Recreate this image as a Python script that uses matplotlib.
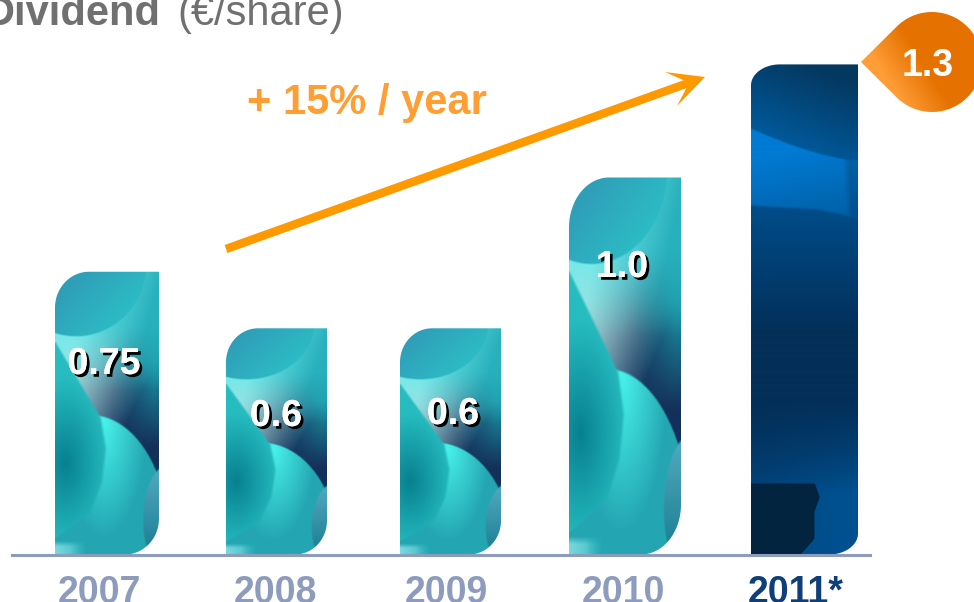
import numpy as np
import matplotlib
matplotlib.use("Agg")
import matplotlib.pyplot as plt
import matplotlib.patheffects as pe
from matplotlib.colors import to_rgb
from matplotlib.patches import Polygon

plt.rcParams["font.family"] = ["Liberation Sans", "DejaVu Sans"]

# Dividend per share
years = ["2007", "2008", "2009", "2010", "2011*"]
dividends = [0.75, 0.6, 0.6, 1.0, 1.3]
value_labels = ["0.75", "0.6", "0.6", "1.0"]
forecast_label = "1.3"
growth_label = "+ 15% / year"

W, H = 974, 602
BASE_PX = 554.5
PX_PER_EURO = 377.0

# Bar geometry and label placement, in figure pixels
bar_left = [55, 226, 400, 569, 751]
bar_right = [159, 327, 501, 681, 858]
corner_rx = [34, 32, 32, 40, 29]
corner_ry = [36, 34, 34, 50, 21]
tick_pos = [99.5, 275, 446, 623.5, 796]
label_xy = [(104, 364), (276, 416), (453, 414), (622, 267)]


def rgb(c):
    return np.array(to_rgb(c))


def mix(a, b, t):
    t = np.clip(t, 0, 1)[..., None]
    return rgb(a) * (1 - t) + rgb(b) * t


def over(img, layer, mask):
    m = np.clip(mask, 0, 1)[..., None]
    return img * (1 - m) + layer * m


def ellipse_mask(u, v, cx, cy, rx, ry, soft=0.03):
    d = 1 - np.sqrt(((u - cx) / rx) ** 2 + ((v - cy) / ry) ** 2)
    return np.clip(d / soft + 0.5, 0, 1)


def teal_texture(n=420, m=180):
    u, v = np.meshgrid(np.linspace(0, 1, m), np.linspace(0, 1, n))
    # upper right field, pale at the left sinking to navy at the notch
    t = ((u - 0.22) * 0.75 + (v - 0.27) * 1.0) / 0.62
    img = mix("#aadede", "#14305a", np.clip(t, 0, 1) ** 1.3)
    side = np.clip((u - 0.55) / 0.4, 0, 1) * np.clip((0.62 - v) / 0.3, 0, 1)
    img = over(img, mix("#38b4be", "#1a98a8", u), side)
    top = np.clip((0.42 - v) / 0.22, 0, 1)
    img = over(img, mix("#70eaea", "#28b0bc", (u - 0.35) / 0.65 + (v - 0.05) * 1.2), top)
    # cap at the top
    cap = mix("#3096b4", "#2cc2c8", u * 0.8 + v * 2.0)
    img = over(img, cap, ellipse_mask(u, v, 0.2, -0.02, 0.68, 0.25, 0.02))
    # bright swell, fading away from its apex
    apex = np.sqrt((u - 0.47) ** 2 + (v - 0.52) ** 2)
    swell = mix("#48f4ec", "#24a6b2", apex / 0.42)
    img = over(img, swell, ellipse_mask(u, v, 0.35, 0.95, 0.75, 0.44, 0.015))
    # right sliver
    sliver = mix("#4fa6bd", "#1f8296", (v - 0.72) / 0.25)
    img = over(img, sliver, ellipse_mask(u, v, 1.12, 0.88, 0.27, 0.2, 0.04))
    # left lobe, its edge traced down the bar
    edge = np.interp(v, [0.25, 0.39, 0.52, 0.63, 0.75, 0.855, 0.945],
                     [0.0, 0.23, 0.44, 0.49, 0.45, 0.34, 0.0], left=-1, right=-1)
    r = np.sqrt(((u - 0.1) / 0.42) ** 2 + ((v - 0.68) / 0.3) ** 2)
    lobe = mix("#07808f", "#26bcc0", r)
    img = over(img, lobe, np.clip((edge - u) / 0.03 + 0.5, 0, 1))
    # pale corner at the foot
    img = over(img, mix("#7ad8de", "#2fb4bc", u / 0.35),
               np.clip((v - 0.955) / 0.02, 0, 1) * np.clip((0.3 - u) / 0.15, 0, 1))
    return img


def navy_texture(n=490, m=107):
    u, v = np.meshgrid(np.linspace(0, 1, m), np.linspace(0, 1, n))
    # body below the bright band
    img = mix("#004c88", "#032f58", (v - 0.3) / 0.25)
    low = np.clip((v - 0.68) / 0.2, 0, 1)
    img = over(img, mix("#033563", "#00508f", low * 0.6 + u * 0.5), low)
    # bright band under the top arc
    band = mix("#007ad2", "#0062aa", (v - 0.18) / 0.14 + (u - 0.4) * 0.3)
    lower_edge = 0.305 - 0.012 * (1 - u) + 0.03 * np.clip(u - 0.6, 0, 1)
    band_mask = np.clip((lower_edge - v) / 0.006, 0, 1)
    img = over(img, band, band_mask)
    wedge = np.clip((u - 0.86 - (v - 0.2) * 0.3) / 0.06, 0, 1) * band_mask
    img = over(img, mix("#0060a5", "#00508f", (v - 0.2) / 0.1), wedge)
    # top arc
    arc = mix("#04385f", "#005ca0", v / 0.2 + (0.55 - u) * 0.45)
    arc_edge = 0.2 - 0.065 * (1 - u) ** 1.5
    img = over(img, arc, np.clip((arc_edge - v) / 0.004, 0, 1))
    # dark block at the foot
    block_right = (0.6 + 0.05 * np.clip(1 - np.abs(v - 0.885) / 0.03, 0, 1)
                   - 0.12 * np.clip(v - 0.97, 0, 1) / 0.03)
    block = np.clip((v - 0.855) / 0.004, 0, 1) * np.clip((block_right - u) / 0.012, 0, 1)
    img = over(img, np.broadcast_to(rgb("#03243f"), img.shape), block)
    return img


def corner(cx, cy, rx, ry, a0, a1, n=40):
    a = np.deg2rad(np.linspace(a0, a1, n))
    return np.column_stack([cx + rx * np.cos(a), cy + ry * np.sin(a)])


def rounded_bar_outline(x0, x1, y1, rx, ry):
    """Bar outline with the top-left and bottom-right corners rounded."""
    return np.vstack([
        [(x0, 0)],
        corner(x0 + rx, y1 - ry, rx, ry, 180, 90),
        [(x1, y1)],
        corner(x1 - rx, ry, rx, ry, 0, -90),
    ])


fig = plt.figure(figsize=(W / 100, H / 100), dpi=100, facecolor="white")

# Value axes: x in figure pixels, y in euro per share
ax = fig.add_axes([0, 1 - BASE_PX / H, 1, BASE_PX / H])
for name in ("top", "left", "right"):
    ax.spines[name].set_visible(False)
ax.spines["bottom"].set_color("#8d9cbd")
ax.spines["bottom"].set_linewidth(2.2)
ax.spines["bottom"].set_bounds(12, 870)
ax.set_yticks([])
ax.patch.set_visible(False)

textures = [teal_texture()] * 4 + [navy_texture()]
for i, val in enumerate(dividends):
    outline = rounded_bar_outline(bar_left[i], bar_right[i], val,
                                  corner_rx[i], corner_ry[i] / PX_PER_EURO)
    patch = Polygon(outline, closed=True, fc="none", ec="none")
    ax.add_patch(patch)
    im = ax.imshow(textures[i], extent=[bar_left[i], bar_right[i], 0, val],
                   aspect="auto", interpolation="bilinear", zorder=2)
    im.set_clip_path(patch)

ax.set_xlim(0, W)
ax.set_ylim(0, BASE_PX / PX_PER_EURO)
ax.set_xticks(tick_pos, years)
ax.tick_params(axis="x", length=0, pad=14.5)
for lab in ax.get_xticklabels():
    lab.set_fontsize(27)
    lab.set_fontweight("bold")
    lab.set_color("#8d9cbd")
ax.get_xticklabels()[-1].set_color("#0f3f78")

# Overlay in figure pixels for annotations
ov = fig.add_axes([0, 0, 1, 1])
ov.set_xlim(0, W)
ov.set_ylim(H, 0)
ov.axis("off")

ov.text(160, 25, "Dividend", ha="right", va="baseline", fontsize=30,
        fontweight="bold", color="#707070")
ov.text(177, 25, "(€/share)", ha="left", va="baseline", fontsize=30,
        color="#707070")

shadow = [pe.withSimplePatchShadow(offset=(2, -2), shadow_rgbFace="black",
                                   alpha=1.0), pe.Normal()]
for (x, y), txt in zip(label_xy, value_labels):
    ov.text(x, y, txt, ha="center", va="center", fontsize=27, fontweight="bold",
            color="white", path_effects=shadow, zorder=5)

# Growth arrow
ov.add_patch(Polygon(
    [(224.6, 245), (683.6, 80.2), (665, 72), (705, 77), (677, 106), (686.4, 88.1),
     (227.4, 253)], closed=True, fc="#ff9900", ec="none", zorder=4))
ov.text(367, 103, growth_label, ha="center", va="center", fontsize=30,
        fontweight="bold", color="#ff9f33")

# Teardrop call-out with the forecast value
cx, cy, r = 932, 62, 50
a = np.deg2rad(np.linspace(135, -135, 90))
drop = np.vstack([[(861, cy)], np.column_stack([cx + r * np.cos(a), cy - r * np.sin(a)])])
drop_patch = Polygon(drop, closed=True, fc="none", ec="none")
ov.add_patch(drop_patch)
xx, yy = np.meshgrid(np.linspace(0, 1, 120), np.linspace(0, 1, 100))
grad = mix("#ff9e38", "#e57200", (xx - 0.525 * yy + 0.15) / 0.4)
im = ov.imshow(grad, extent=[861, 982, 112, 12], aspect="auto", zorder=3)
im.set_clip_path(drop_patch)
ov.set_xlim(0, W)
ov.set_ylim(H, 0)
ov.text(927.5, 66, forecast_label, ha="center", va="center", fontsize=27,
        fontweight="bold", color="white", zorder=5)

fig.savefig("out.png", dpi=100)
